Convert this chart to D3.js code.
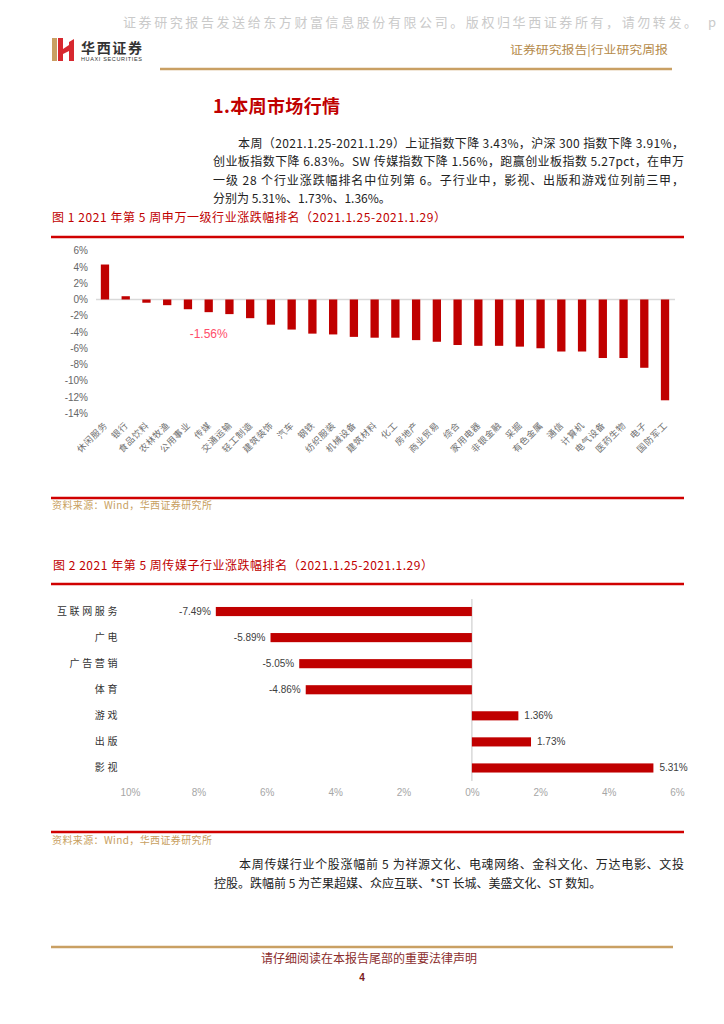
<!DOCTYPE html>
<html><head><meta charset="utf-8">
<script src="https://cdn.jsdelivr.net/npm/d3@7/dist/d3.min.js"></script>
<style>body{margin:0;background:#fff} svg{display:block}</style>
</head><body>
<svg id="page" width="724" height="1024"></svg>
<script>
// ---------- data ----------
const industries = ["休闲服务","银行","食品饮料","农林牧渔","公用事业","传媒","交通运输","轻工制造","建筑装饰","汽车","钢铁","纺织服装","机械设备","建筑材料","化工","房地产","商业贸易","综合","家用电器","非银金融","采掘","有色金属","通信","计算机","电气设备","医药生物","电子","国防军工"];
const industryChange = [4.3,0.4,-0.4,-0.7,-1.2,-1.56,-1.8,-2.3,-3.1,-3.7,-4.2,-4.3,-4.6,-4.7,-4.7,-5.0,-5.2,-5.6,-5.7,-5.7,-5.8,-6.0,-6.4,-6.4,-7.2,-7.2,-8.4,-12.4];
const industryTicks = [6,4,2,0,-2,-4,-6,-8,-10,-12,-14];
const highlightName = "传媒";
const highlightLabel = "-1.56%";

const mediaSubs = ["互联网服务","广电","广告营销","体育","游戏","出版","影视"];
const mediaChange = [-7.49,-5.89,-5.05,-4.86,1.36,1.73,5.31];
const mediaTicks = [-10,-8,-6,-4,-2,0,2,4,6];

const watermark = "证券研究报告发送给东方财富信息股份有限公司。版权归华西证券所有，请勿转发。";
const headerRight = "证券研究报告|行业研究周报";
const sectionTitle = "1.本周市场行情";
const para1 = [
  "本周（2021.1.25-2021.1.29）上证指数下降 3.43%，沪深 300 指数下降 3.91%，",
  "创业板指数下降 6.83%。SW 传媒指数下降 1.56%，跑赢创业板指数 5.27pct，在申万",
  "一级 28 个行业涨跌幅排名中位列第 6。子行业中，影视、出版和游戏位列前三甲，",
  "分别为 5.31%、1.73%、1.36%。"
];
const caption1 = "图 1 2021 年第 5 周申万一级行业涨跌幅排名（2021.1.25-2021.1.29）";
const caption2 = "图 2 2021 年第 5 周传媒子行业涨跌幅排名（2021.1.25-2021.1.29）";
const sourceText = "资料来源：Wind，华西证券研究所";
const para2 = [
  "本周传媒行业个股涨幅前 5 为祥源文化、电魂网络、金科文化、万达电影、文投",
  "控股。跌幅前 5 为芒果超媒、众应互联、*ST 长城、美盛文化、ST 数知。"
];
const footerText = "请仔细阅读在本报告尾部的重要法律声明";
const pageNum = "4";

// ---------- styles ----------
const CJK = "'Noto Sans CJK SC','Noto Sans',sans-serif";
const NARROW = "'Liberation Sans Narrow','Arial Narrow','Liberation Sans',sans-serif";
const RED = "#c00000";
const GOLD = "#c9a063";

const svg = d3.select("#page");
svg.append("rect").attr("width",724).attr("height",1024).attr("fill","#fff");

// ---------- header ----------
svg.append("text").attr("x",123).attr("y",27).attr("font-family",CJK).attr("font-size",13)
  .attr("fill","#cacaca").attr("textLength",574).attr("lengthAdjust","spacing").text(watermark);
svg.append("text").attr("x",708).attr("y",27).attr("font-family",CJK).attr("font-size",13)
  .attr("fill","#cacaca").text("p");

const logo = svg.append("g");
logo.append("rect").attr("x",52).attr("y",38).attr("width",5).attr("height",23).attr("fill",GOLD);
logo.append("polygon").attr("fill","#d7282f")
  .attr("points","58,38 63,38 63,49 69,45 69,42 74,39 74,61 69,61 69,51 63,54 63,61 58,61");
svg.append("text").attr("x",81).attr("y",53).attr("font-family",CJK).attr("font-weight","bold")
  .attr("font-size",14).attr("fill","#333").attr("textLength",61).text("华西证券");
svg.append("text").attr("x",81).attr("y",61).attr("font-family","'Liberation Sans',sans-serif")
  .attr("font-size",5.5).attr("fill","#333").attr("textLength",61).text("HUAXI SECURITIES");
svg.append("text").attr("x",510).attr("y",54).attr("font-family",CJK).attr("font-size",11.5)
  .attr("fill","#b58a4a").attr("textLength",158).attr("lengthAdjust","spacingAndGlyphs").text(headerRight);
svg.append("line").attr("x1",160).attr("x2",672).attr("y1",69).attr("y2",69)
  .attr("stroke",GOLD).attr("stroke-width",2.5);

// ---------- section title + paragraph ----------
svg.append("text").attr("x",213).attr("y",113).attr("font-family",CJK).attr("font-weight","bold")
  .attr("font-size",18).attr("fill",RED).attr("textLength",127).text(sectionTitle);

function para(lines, x0, xIndent, x1, y0, dy) {
  lines.forEach((ln,i)=>{
    const x = i===0 ? xIndent : x0;
    const t = svg.append("text").attr("x",x).attr("y",y0+i*dy).attr("font-family",CJK)
      .attr("font-size",12).attr("fill","#222").text(ln);
    if (i < lines.length-1) t.attr("textLength",x1-x).attr("lengthAdjust","spacing");
  });
}
para(para1, 213, 238, 684, 148, 18.3);

// ---------- chart 1 ----------
svg.append("text").attr("x",52).attr("y",222).attr("font-family",CJK).attr("font-size",12)
  .attr("fill",RED).attr("textLength",394).attr("lengthAdjust","spacing").text(caption1);
svg.append("line").attr("x1",51).attr("x2",684).attr("y1",237).attr("y2",237).attr("stroke","#d00000").attr("stroke-width",2.5);
svg.append("line").attr("x1",51).attr("x2",684).attr("y1",498).attr("y2",498).attr("stroke","#d00000").attr("stroke-width",2.5);
svg.append("text").attr("x",52).attr("y",509).attr("font-family",CJK).attr("font-size",10)
  .attr("fill","#c8a060").attr("textLength",160).attr("lengthAdjust","spacing").text(sourceText);

const x1 = d3.scaleBand().domain(industries).range([94.6,675.4]).paddingInner(0.6).paddingOuter(0.3);
const y1 = d3.scaleLinear().domain([-14,6]).range([413.3,250.7]);

const yAxis1 = d3.axisLeft(y1).tickValues(industryTicks).tickSize(0).tickPadding(0)
  .tickFormat(d=>d+"%");
const gy1 = svg.append("g").attr("transform","translate(88,0)").call(yAxis1);
gy1.select(".domain").remove();
gy1.selectAll("text").attr("font-family",NARROW).attr("font-size",10).attr("fill","#666");

svg.append("line").attr("x1",96).attr("x2",675).attr("y1",y1(0)).attr("y2",y1(0))
  .attr("stroke","#d9d9d9").attr("stroke-width",1.5);

svg.append("g").selectAll("rect").data(industries).join("rect")
  .attr("x",d=>x1(d)).attr("width",x1.bandwidth())
  .attr("y",(d,i)=>y1(Math.max(0,industryChange[i])))
  .attr("height",(d,i)=>Math.abs(y1(industryChange[i])-y1(0)))
  .attr("fill",RED);

svg.append("g").selectAll("text").data(industries).join("text")
  .attr("transform",d=>`translate(${x1(d)+x1.bandwidth()/2+3},${426}) rotate(-45)`)
  .attr("text-anchor","end").attr("font-family",CJK).attr("font-size",9)
  .attr("letter-spacing",0.6).attr("fill","#6f6f6f").text(d=>d);

svg.append("text").attr("x",x1(highlightName)+x1.bandwidth()/2).attr("y",y1(-4.7))
  .attr("text-anchor","middle").attr("font-family",NARROW).attr("font-size",12)
  .attr("fill","#ff4d6a").text(highlightLabel);

// ---------- chart 2 ----------
svg.append("text").attr("x",53).attr("y",570).attr("font-family",CJK).attr("font-size",12)
  .attr("fill",RED).attr("textLength",380).attr("lengthAdjust","spacing").text(caption2);
svg.append("line").attr("x1",51).attr("x2",684).attr("y1",584).attr("y2",584).attr("stroke","#d00000").attr("stroke-width",2.5);
svg.append("line").attr("x1",51).attr("x2",684).attr("y1",832).attr("y2",832).attr("stroke","#d00000").attr("stroke-width",2.5);
svg.append("text").attr("x",52).attr("y",844).attr("font-family",CJK).attr("font-size",10)
  .attr("fill","#c8a060").attr("textLength",160).attr("lengthAdjust","spacing").text(sourceText);

const x2 = d3.scaleLinear().domain([-10,6]).range([130,677]);
const y2 = d3.scaleBand().domain(mediaSubs).range([598.5,781]).paddingInner(0.65).paddingOuter(0.325);

svg.append("line").attr("x1",x2(0)).attr("x2",x2(0)).attr("y1",599).attr("y2",781)
  .attr("stroke","#d9d9d9").attr("stroke-width",1.5);

svg.append("g").selectAll("rect").data(mediaSubs).join("rect")
  .attr("x",(d,i)=>x2(Math.min(0,mediaChange[i])))
  .attr("width",(d,i)=>Math.abs(x2(mediaChange[i])-x2(0)))
  .attr("y",d=>y2(d)).attr("height",y2.bandwidth()).attr("fill",RED);

svg.append("g").selectAll("text").data(mediaSubs).join("text")
  .attr("x",(d,i)=>mediaChange[i]<0 ? x2(mediaChange[i])-5 : x2(mediaChange[i])+6)
  .attr("y",d=>y2(d)+y2.bandwidth()/2+3.5)
  .attr("text-anchor",(d,i)=>mediaChange[i]<0?"end":"start")
  .attr("font-family",NARROW).attr("font-size",10).attr("fill","#404040")
  .text((d,i)=>mediaChange[i].toFixed(2)+"%");

const yAxis2 = d3.axisLeft(y2).tickSize(0).tickPadding(0);
const gy2 = svg.append("g").attr("transform","translate(120,0)").call(yAxis2);
gy2.select(".domain").remove();
gy2.selectAll("text").attr("font-family",CJK).attr("font-size",10).attr("fill","#333").attr("letter-spacing",2.6);

const xAxis2 = d3.axisBottom(x2).tickValues(mediaTicks).tickSize(0).tickPadding(0)
  .tickFormat(d=>Math.abs(d)+"%");
const gx2 = svg.append("g").attr("transform","translate(0,789)").call(xAxis2);
gx2.select(".domain").remove();
gx2.selectAll("text").attr("font-family",NARROW).attr("font-size",10).attr("fill","#a6a6a6");

// ---------- closing paragraph + footer ----------
para(para2, 214, 239, 684, 869, 18.5);
svg.append("line").attr("x1",51).attr("x2",673).attr("y1",947).attr("y2",947)
  .attr("stroke",GOLD).attr("stroke-width",2.5);
svg.append("text").attr("x",369).attr("y",963).attr("text-anchor","middle").attr("font-family",CJK)
  .attr("font-size",12).attr("fill","#8b2d2d").text(footerText);
svg.append("text").attr("x",362).attr("y",981).attr("text-anchor","middle").attr("font-family","'Liberation Sans',sans-serif")
  .attr("font-weight","bold").attr("font-size",10).attr("fill","#7a1a1a").text(pageNum);
</script>
</body></html>
